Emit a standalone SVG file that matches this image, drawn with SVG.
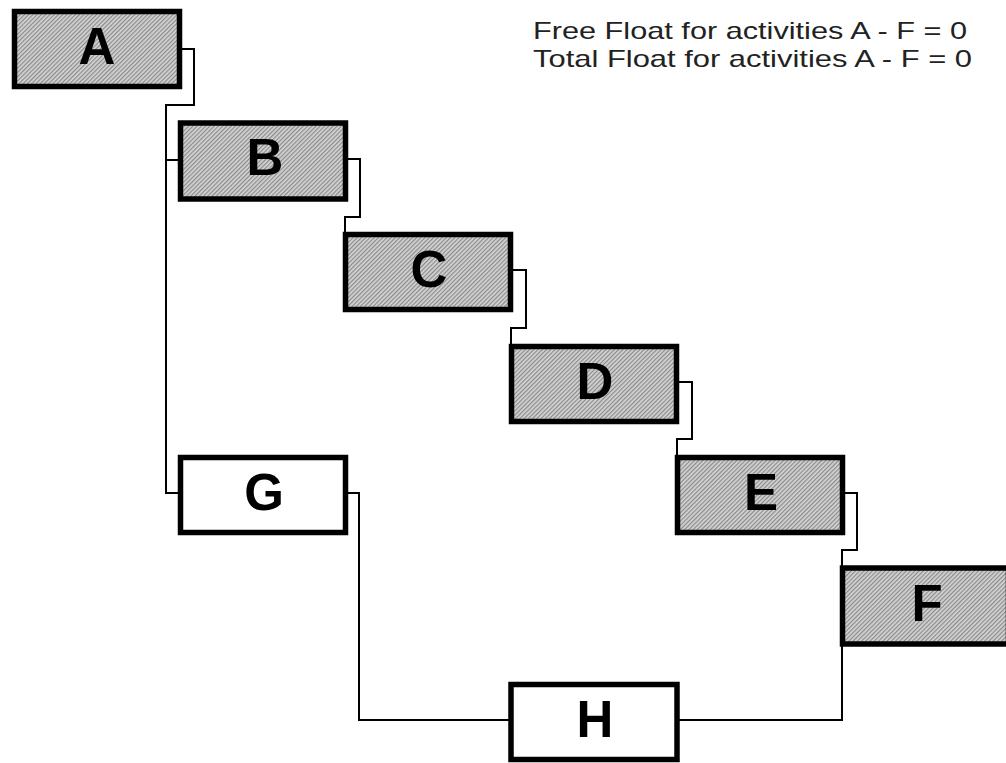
<svg xmlns="http://www.w3.org/2000/svg" width="1006" height="763" viewBox="0 0 1006 763">
<defs>
<pattern id="hatch" width="3" height="3" patternUnits="userSpaceOnUse" patternTransform="rotate(45)">
<rect width="3" height="3" fill="#d4d4d4"/>
<rect width="1.2" height="3" fill="#8a8a8a"/>
</pattern>
</defs>
<style>
.box{stroke:#000;stroke-width:5.5}
.crit{fill:url(#hatch)}
.plain{fill:#fff}
.lbl{font-family:"Liberation Sans",Arial,sans-serif;font-weight:bold;font-size:51px;text-anchor:middle;fill:#000}
.note{font-family:"Liberation Sans",Arial,sans-serif;font-size:24px;fill:#222}
.con{fill:none;stroke:#000;stroke-width:2}
</style>
<rect width="1006" height="763" fill="#fff"/>
<g id="connectors">
<path class="con" d="M180 49 H194 V105 H166 V493 H180"/>
<path class="con" d="M166 160 H180"/>
<path class="con" d="M345 159 H360 V217 H345 V234"/>
<path class="con" d="M510 270 H526 V328 H511 V346"/>
<path class="con" d="M676 382 H692 V439 H677 V457"/>
<path class="con" d="M842 493 H857 V550 H842 V569"/>
<path class="con" d="M345 493 H359 V720 H511"/>
<path class="con" d="M676 720 H842 V643"/>
</g>
<g id="A"><rect class="box crit" x="14.5" y="11.5" width="165" height="75"/><text class="lbl" x="97" y="64">A</text></g>
<g id="B"><rect class="box crit" x="180.5" y="123" width="165" height="76"/><text class="lbl" x="265" y="175">B</text></g>
<g id="C"><rect class="box crit" x="345.5" y="234.5" width="165" height="75"/><text class="lbl" x="429" y="287">C</text></g>
<g id="D"><rect class="box crit" x="511.5" y="346.5" width="165" height="75"/><text class="lbl" x="595" y="399">D</text></g>
<g id="E"><rect class="box crit" x="677.5" y="457.5" width="165" height="75"/><text class="lbl" x="761" y="510">E</text></g>
<g id="F"><rect class="box crit" x="842.5" y="568" width="166" height="76"/><text class="lbl" x="927" y="621">F</text></g>
<g id="G"><rect class="box plain" x="180.5" y="457.5" width="165" height="75"/><text class="lbl" x="264" y="510">G</text></g>
<g id="H"><rect class="box plain" x="511" y="684.5" width="166" height="75"/><text class="lbl" x="595" y="737">H</text></g>
<g id="notes">
<text class="note" x="533" y="39" textLength="434" lengthAdjust="spacingAndGlyphs">Free Float for activities A - F = 0</text>
<text class="note" x="533" y="67" textLength="439" lengthAdjust="spacingAndGlyphs">Total Float for activities A - F = 0</text>
</g>
</svg>
